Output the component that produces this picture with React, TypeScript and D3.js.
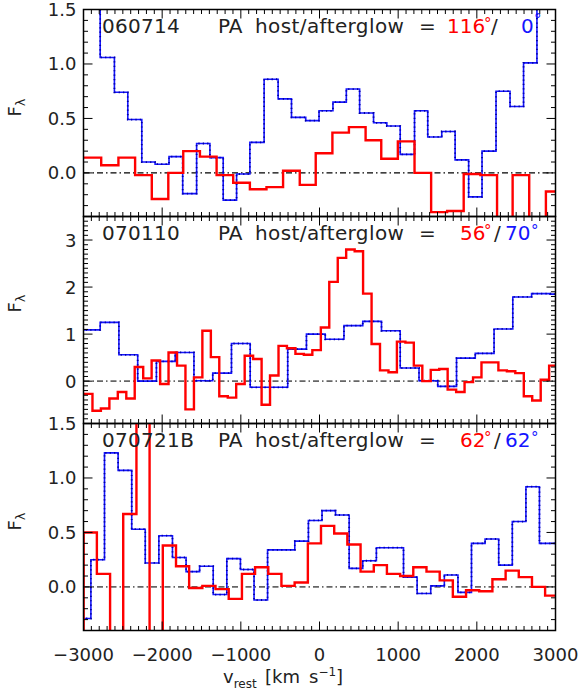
import React from "react";
import * as d3 from "d3";

// Velocity bin left edges in km/s (the last entry closes the final bin) and flux per bin.
// GRB 060714
const v060714Blue = [-2960, -2788, -2607, -2437, -2259, -2090, -1913, -1739, -1562, -1393, -1224, -1054, -885, -704, -526, -356, -175, -6, 171, 341, 510, 687, 856, 1026, 1208, 1376, 1554, 1724, 1896, 2066, 2244, 2422, 2594, 2764, 2942];
const f060714Blue = [1.9, 1.06, 0.74, 0.49, 0.10, 0.08, 0.15, -0.19, 0.27, 0.14, -0.25, -0.01, 0.28, 0.86, 0.68, 0.51, 0.48, 0.57, 0.65, 0.77, 0.55, 0.46, 0.43, 0.17, 0.57, 0.33, 0.38, 0.12, -0.22, 0.20, 0.75, 0.61, 1.01, 1.9];
const v060714Red = [-3050, -2775, -2556, -2344, -2132, -1922, -1732, -1520, -1308, -1097, -885, -674, -463, -251, -48, 164, 374, 586, 785, 996, 1208, 1419, 1622, 1833, 2045, 2257, 2455, 2666, 2878, 3085];
const f060714Red = [0.14, 0.07, 0.14, -0.02, -0.24, 0.00, 0.20, 0.15, -0.02, -0.09, -0.15, -0.13, 0.02, -0.11, 0.18, 0.37, 0.42, 0.30, 0.13, 0.29, 0.00, -0.36, -0.35, -0.01, -0.02, -0.7, -0.02, -0.7, -0.17];

// GRB 070110
const v070110Blue = [-3026, -2788, -2550, -2311, -2073, -1834, -1596, -1357, -1119, -881, -643, -404, -166, 73, 311, 550, 788, 1026, 1265, 1503, 1742, 1980, 2219, 2457, 2696, 2934, 3172];
const f070110Blue = [1.09, 1.25, 0.56, 0.00, 0.42, 0.61, 0.01, 0.17, 0.80, -0.13, -0.13, 0.68, 1.00, 0.89, 1.18, 1.27, 1.07, 0.28, 0.01, -0.11, 0.49, 0.59, 1.11, 1.79, 1.86, 1.85];
const v070110Red = [-2994, -2886, -2779, -2671, -2564, -2456, -2349, -2241, -2134, -2026, -1919, -1811, -1704, -1596, -1489, -1381, -1274, -1166, -1059, -951, -844, -736, -629, -521, -414, -306, -199, -91, 17, 124, 232, 339, 447, 554, 662, 769, 877, 984, 1092, 1199, 1307, 1414, 1522, 1629, 1737, 1844, 1952, 2059, 2167, 2274, 2382, 2489, 2597, 2704, 2812, 2919, 3027];
const f070110Red = [-0.27, -0.63, -0.58, -0.37, -0.23, -0.37, 0.30, 0.06, 0.44, -0.06, 0.61, 0.33, -0.60, 0.08, 1.07, 0.51, -0.32, -0.35, -0.06, 0.54, 0.47, -0.50, 0.12, 0.75, 0.70, 0.58, 0.56, 0.66, 1.14, 2.11, 2.62, 2.80, 2.76, 1.86, 0.79, 0.23, 0.19, 0.84, 0.82, 0.33, 0.00, 0.24, 0.26, -0.18, -0.23, -0.02, 0.08, 0.40, 0.40, 0.23, 0.21, 0.17, -0.32, -0.41, 0.03, 0.33];

// GRB 070721B
const v070721BBlue = [-3079, -2906, -2733, -2560, -2387, -2215, -2042, -1869, -1696, -1524, -1351, -1178, -1005, -832, -660, -487, -314, -141, 32, 204, 377, 550, 723, 896, 1068, 1241, 1414, 1587, 1760, 1932, 2105, 2278, 2451, 2624, 2796, 2969, 3142];
const f070721BBlue = [-0.29, 0.25, 1.23, 1.07, 0.53, 0.22, 0.47, 0.27, 0.14, 0.19, -0.07, 0.26, 0.16, -0.12, 0.34, 0.34, 0.42, 0.61, 0.70, 0.66, 0.17, 0.24, 0.36, 0.36, 0.09, -0.06, 0.01, 0.11, -0.05, 0.40, 0.44, 0.20, 0.60, 0.92, 0.40, 0.40];
const v070721BRed = [-3166, -2998, -2830, -2662, -2495, -2327, -2160, -1992, -1824, -1657, -1489, -1322, -1154, -986, -819, -651, -484, -316, -148, 19, 187, 354, 522, 690, 857, 1025, 1192, 1360, 1528, 1695, 1863, 2030, 2198, 2366, 2533, 2701, 2868, 3036];
const f070721BRed = [-1.0, 0.50, 0.12, -1.5, 0.67, 2.5, -1.5, 0.38, 0.19, -0.01, 0.01, -0.02, -0.11, 0.12, 0.18, 0.12, 0.01, 0.04, 0.40, 0.56, 0.49, 0.39, 0.14, 0.20, 0.12, 0.10, 0.18, 0.14, 0.06, -0.09, -0.03, -0.04, 0.07, 0.15, 0.09, 0.00, -0.08];

const grbNames = ["060714", "070110", "070721B"];
const paHost = ["116", "56", "62"];
const paAfterglow = ["0", "70", "62"];

const xTicks = [-3000, -2000, -1000, 0, 1000, 2000, 3000];
const yTicksA = [0, 0.5, 1.0, 1.5];
const yTicksB = [0, 1, 2, 3];

const FONT = "'DejaVu Sans', Verdana, sans-serif";
const RED = "#ff0000";
const BLUE = "#1414ff";
const INK = "#222";

const LEFT = 83.5;
const RIGHT = 555.5;
const TOP = 9.5;
const PH = 207;

type Series = { edges: number[]; flux: number[] };
type PanelDef = {
  name: string;
  host: string;
  ag: string;
  blue: Series;
  red: Series;
  domain: [number, number];
  major: number[];
  fmt: (v: number) => string;
  zeroColor: string;
  zeroWidth: number;
  labelAt: number;
};

const panels: PanelDef[] = [
  {
    name: grbNames[0], host: paHost[0], ag: paAfterglow[0],
    blue: { edges: v060714Blue, flux: f060714Blue },
    red: { edges: v060714Red, flux: f060714Red },
    domain: [-0.4, 1.5], major: yTicksA, fmt: d3.format(".1f"),
    zeroColor: "#000", zeroWidth: 1.1, labelAt: 0.6,
  },
  {
    name: grbNames[1], host: paHost[1], ag: paAfterglow[1],
    blue: { edges: v070110Blue, flux: f070110Blue },
    red: { edges: v070110Red, flux: f070110Red },
    domain: [-0.9, 3.5], major: yTicksB, fmt: d3.format("d"),
    zeroColor: "#666", zeroWidth: 1.6, labelAt: 1.65,
  },
  {
    name: grbNames[2], host: paHost[2], ag: paAfterglow[2],
    blue: { edges: v070721BBlue, flux: f070721BBlue },
    red: { edges: v070721BRed, flux: f070721BRed },
    domain: [-0.4, 1.5], major: yTicksA, fmt: d3.format(".1f"),
    zeroColor: "#666", zeroWidth: 1.6, labelAt: 0.6,
  },
];

const x = d3.scaleLinear().domain([-3000, 3000]).range([LEFT, RIGHT]);

function stepPoints(s: Series): [number, number][] {
  const pts: [number, number][] = s.flux.map((f, i) => [s.edges[i], f]);
  pts.push([s.edges[s.edges.length - 1], s.flux[s.flux.length - 1]]);
  return pts;
}

function Panel({ p, i }: { p: PanelDef; i: number }) {
  const top = TOP + i * PH;
  const bottom = top + PH;
  const y = d3.scaleLinear().domain(p.domain).range([bottom, top]);
  const line = d3
    .line<[number, number]>()
    .x((d) => x(d[0]))
    .y((d) => y(d[1]))
    .curve(d3.curveStepAfter);
  const clipId = `clip-${i}`;
  const minorY = d3.range(Math.ceil(p.domain[0] * 10), Math.floor(p.domain[1] * 10) + 1).map((k) => k / 10);
  const minorX = d3.range(-30, 31).map((k) => k * 100);
  const titleY = top + 23;
  const hostX = p.host.length === 3 ? 447 : 460;
  const agX = p.ag.length === 1 ? 521 : 505;
  const slashX = p.ag.length === 1 ? 491 : 494;
  return (
    <g>
      <defs>
        <clipPath id={clipId}>
          <rect x={LEFT} y={top} width={RIGHT - LEFT} height={PH} />
        </clipPath>
      </defs>
      <g clipPath={`url(#${clipId})`}>
        <line x1={LEFT} x2={RIGHT} y1={y(0)} y2={y(0)} stroke={p.zeroColor} strokeWidth={p.zeroWidth} strokeDasharray="6,3,1.5,3" />
        <path d={line(stepPoints(p.blue)) || ""} fill="none" stroke={BLUE} strokeWidth={1.6} />
        <path d={line(stepPoints(p.blue)) || ""} fill="none" stroke="#0000a0" strokeWidth={1.8} strokeDasharray="1.2,3.2" />
        <path d={line(stepPoints(p.red)) || ""} fill="none" stroke={RED} strokeWidth={2.4} />
      </g>
      {/* tick marks on all four sides, pointing inward */}
      {minorX.map((v) => {
        const len = v % 1000 === 0 ? 9 : 4.5;
        return (
          <g key={`xt${v}`} stroke="#000" strokeWidth={1}>
            <line x1={x(v)} x2={x(v)} y1={bottom} y2={bottom - len} />
            <line x1={x(v)} x2={x(v)} y1={top} y2={top + len} />
          </g>
        );
      })}
      {minorY.map((v) => {
        const isMajor = p.major.some((m) => Math.abs(m - v) < 1e-6);
        const len = isMajor ? 9 : 4.5;
        return (
          <g key={`yt${v}`} stroke="#000" strokeWidth={1}>
            <line x1={LEFT} x2={LEFT + len} y1={y(v)} y2={y(v)} />
            <line x1={RIGHT} x2={RIGHT - len} y1={y(v)} y2={y(v)} />
          </g>
        );
      })}
      <rect x={LEFT} y={top} width={RIGHT - LEFT} height={PH} fill="none" stroke="#000" strokeWidth={1.5} />
      {p.major.map((v) => (
        <text key={`yl${v}`} x={LEFT - 7} y={y(v)} dy="0.36em" textAnchor="end" fontSize={18} fontFamily={FONT} fill={INK}>
          {p.fmt(v)}
        </text>
      ))}
      <text transform={`translate(21,${y(p.labelAt)}) rotate(-90)`} textAnchor="middle" fontSize={18} fontFamily={FONT} fill={INK}>
        F<tspan fontSize={13} dy={4}>λ</tspan>
      </text>
      {/* panel title */}
      <g fontFamily={FONT} fontSize={20} fill={INK}>
        <text x={102} y={titleY} letterSpacing={0.3}>{p.name}</text>
        <text x={218} y={titleY}>PA</text>
        <text x={255} y={titleY} letterSpacing={0.4}>host/afterglow</text>
        <text x={419} y={titleY}>=</text>
        <text x={hostX} y={titleY} fill={RED}>{p.host}</text>
        <text x={hostX + (p.host.length === 3 ? 37 : 24)} y={titleY - 4} fill={RED} fontSize={15}>°</text>
        <text x={slashX} y={titleY}>/</text>
        <text x={agX} y={titleY} fill={BLUE}>{p.ag}</text>
        <text x={agX + (p.ag.length === 1 ? 13 : 26)} y={titleY - (p.ag.length === 1 ? 8 : 4)} fill={BLUE} fontSize={15}>°</text>
      </g>
    </g>
  );
}

export default function App() {
  const bottom = TOP + 3 * PH;
  return (
    <svg width={584} height={692} style={{ position: "absolute", left: 0, top: 0, background: "#fff" }}>
      <rect width={584} height={692} fill="#fff" />
      {panels.map((p, i) => (
        <Panel key={p.name} p={p} i={i} />
      ))}
      {xTicks.map((v) => (
        <text key={v} x={x(v)} y={bottom + 30} textAnchor="middle" fontSize={18} fontFamily={FONT} fill={INK}>
          {v < 0 ? `−${Math.abs(v)}` : `${v}`}
        </text>
      ))}
      <text y={bottom + 52} fontSize={18} fontFamily={FONT} fill={INK}>
        <tspan x={223}>v</tspan>
        <tspan fontSize={12} dy={5}>rest</tspan>
        <tspan x={265} dy={-5}>[km</tspan>
        <tspan x={309}>s</tspan>
        <tspan fontSize={12} dy={-7}>−1</tspan>
        <tspan dy={7}>]</tspan>
      </text>
    </svg>
  );
}
